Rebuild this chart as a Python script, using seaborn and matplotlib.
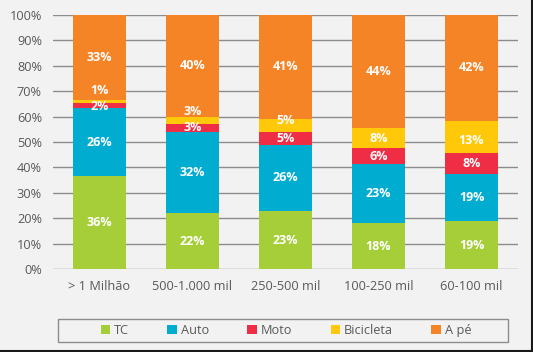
import matplotlib
matplotlib.use("Agg")
import matplotlib.pyplot as plt
import seaborn as sns
import pandas as pd
import numpy as np
from matplotlib.lines import Line2D
from matplotlib.patches import Patch, Rectangle

categories = ["> 1 Milhão", "500-1.000 mil", "250-500 mil", "100-250 mil", "60-100 mil"]
series = ["TC", "Auto", "Moto", "Bicicleta", "A pé"]
tc = [36, 22, 23, 18, 19]
auto = [26, 32, 26, 23, 19]
moto = [2, 3, 5, 6, 8]
bicicleta = [1, 3, 5, 8, 13]
a_pe = [33, 40, 41, 44, 42]
colors = ["#a6ce39", "#00acd0", "#ef2d45", "#ffc90a", "#f58426"]

# label nudges (percentage points) to avoid overlapping small segment labels
nudges = {("Bicicleta", 0): 4.4, ("Bicicleta", 1): 3.3, ("Bicicleta", 2): 2.0,
          ("Bicicleta", 4): -1.5, ("Moto", 0): -0.5}

sns.set_theme(style="white")
plt.rcParams["font.family"] = ["Open Sans", "DejaVu Sans"]

raw = pd.DataFrame({"TC": tc, "Auto": auto, "Moto": moto, "Bicicleta": bicicleta, "A pé": a_pe},
                   index=categories)
share = raw.div(raw.sum(axis=1), axis=0) * 100

W, H = 533, 352
bg = "#f2f2f2"
fig = plt.figure(figsize=(W / 100, H / 100), dpi=100, facecolor=bg)
ax = fig.add_axes([53 / W, 1 - 269.3 / H, (518 - 53) / W, (269.3 - 14.7) / H])
ax.set_facecolor(bg)

bottom = np.zeros(len(categories))
for s, c in zip(series, colors):
    df = pd.DataFrame({"cat": categories, "val": share[s].values, "base": bottom})
    sns.barplot(data=df, x="cat", y="val", bottom=df["base"], color=c, width=0.57,
                saturation=1, ax=ax, zorder=3, edgecolor="none", linewidth=0)
    for i, (v, b, r) in enumerate(zip(share[s].values, bottom, raw[s].values)):
        y = b + v / 2 + nudges.get((s, i), 0)
        ax.text(i, y, f"{r}%", ha="center", va="center", color="white",
                fontsize=9, fontweight="bold", zorder=5)
    bottom = bottom + share[s].values

ax.set_ylim(0, 100)
ax.set_xlim(-0.5, 4.5)
ax.set_yticks(np.arange(0, 101, 10))
ax.set_yticklabels([f"{t}%" for t in range(0, 101, 10)])
ax.yaxis.grid(True, color="#8c8c8c", linewidth=1, zorder=0)
ax.set_axisbelow(True)
for sp in ax.spines.values():
    sp.set_visible(False)
ax.tick_params(axis="both", length=0, colors="#595959", labelsize=9.2)
ax.tick_params(axis="y", pad=8)
ax.tick_params(axis="x", pad=8)
ax.set_xlabel("")
ax.set_ylabel("")

handles = [Patch(facecolor=c, edgecolor="none") for c in colors]
leg = fig.legend(handles, series, loc="center", bbox_to_anchor=(286 / W, 1 - 330.7 / H),
                 ncol=5, frameon=False, fontsize=9.2, handlelength=0.75, handleheight=0.75,
                 handletextpad=0.3, columnspacing=3.0, borderpad=0.3)
for t in leg.get_texts():
    t.set_color("#595959")
fig.add_artist(Rectangle((58 / W, 1 - 342 / H), (508 - 58) / W, (342 - 319.3) / H,
                         transform=fig.transFigure, facecolor="none", edgecolor="#8c8c8c",
                         linewidth=1))

fig.add_artist(Line2D([0, 1], [0.002, 0.002], transform=fig.transFigure, color="#1a1a1a", linewidth=1.5))
fig.add_artist(Line2D([0.998, 0.998], [0, 1], transform=fig.transFigure, color="#1a1a1a", linewidth=1.5))

fig.savefig("out.png", dpi=100, facecolor=bg)
